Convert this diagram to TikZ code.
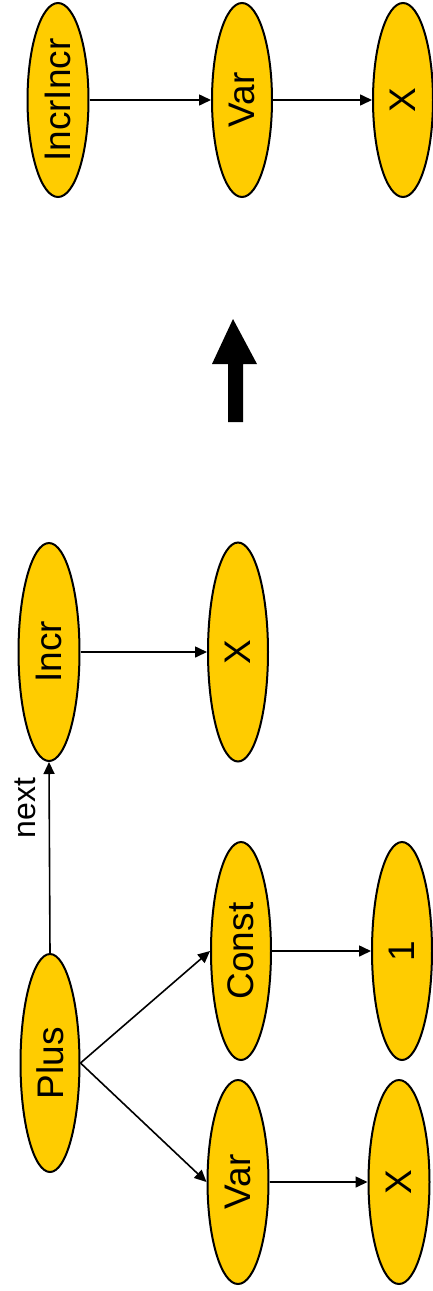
\documentclass[tikz,border=0pt]{standalone}
\usepackage{fontspec}
\setmainfont{Liberation Sans}
\usetikzlibrary{shapes.geometric,arrows.meta}
\definecolor{gold}{HTML}{FFCC00}
\begin{document}
\begin{tikzpicture}[x=1pt,y=-1pt,
  blob/.style={ellipse,draw=black,line width=2pt,fill=gold,inner sep=0pt,minimum width=60pt,font=\fontsize{37}{40}\selectfont},
  link/.style={line width=1.6pt,-{Triangle[length=12pt,width=11pt]}}]
\useasboundingbox (0,0) rectangle (432,1291);
% top row
\node[blob,minimum width=61pt,minimum height=194pt] (ii) at (58,100) {\rotatebox{90}{IncrIncr}};
\node[blob,minimum height=194pt] (v1) at (242,100) {\rotatebox{90}{Var}};
\node[blob,minimum height=194pt] (x1) at (403,100) {\rotatebox{90}{X}};
\draw[link] (ii.east) -- (v1.west);
\draw[link] (v1.east) -- (x1.west);
% big arrow
\fill[black] (228,422) -- (228,364) -- (212,364) -- (233,319) -- (257,364) -- (243,364) -- (243,422) -- cycle;
% middle
\node[blob,minimum width=61pt,minimum height=218pt] (inc) at (49,652) {\rotatebox{90}{Incr}};
\node[blob,minimum height=219pt] (x2) at (238,652) {\rotatebox{90}{X}};
\draw[link] (inc.east) -- (x2.west);
% bottom
\node[blob,minimum width=59pt,minimum height=218pt] (plus) at (50,1063) {\rotatebox{90}{Plus}};
\node[blob,minimum height=218pt] (const) at (241,951) {\rotatebox{90}{Const}};
\node[blob,minimum height=218pt] (one) at (402,951) {\rotatebox{90}{1}};
\node[blob,minimum width=61pt,minimum height=204pt] (v2) at (238,1182) {\rotatebox{90}{Var}};
\node[blob,minimum width=61pt,minimum height=204pt] (x3) at (399,1182) {\rotatebox{90}{X}};
\draw[link] (plus.east) -- (const.west);
\draw[link] (plus.east) -- (v2.west);
\draw[link] (const.east) -- (one.west);
\draw[link] (v2.east) -- (x3.west);
\draw[link] (plus.north) -- (inc.south);
\node[font=\fontsize{32}{36}\selectfont,inner sep=0pt] (nx) at (25,808) {\rotatebox{90}{next}};
\end{tikzpicture}
\end{document}
